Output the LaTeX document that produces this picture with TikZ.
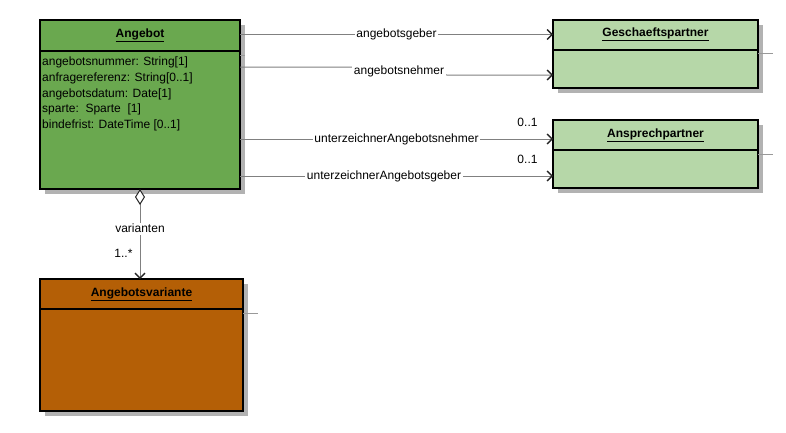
\documentclass[tikz,border=0pt]{standalone}
\usepackage{fontspec}
\setmainfont{Liberation Sans}
\usetikzlibrary{positioning, arrows.meta, backgrounds}
\definecolor{gruen}{HTML}{6AA84F}
\definecolor{hellgruen}{HTML}{B6D7A8}
\definecolor{braun}{HTML}{B45F06}

\begin{document}
\begin{tikzpicture}[x=1pt, y=-1pt, every node/.style={font=\fontsize{12}{14}\selectfont},
    classhead/.style={rectangle, draw, line width=2pt, inner sep=0pt, outer sep=0pt, font=\bfseries\fontsize{12}{14}\selectfont},
    classbody/.style={rectangle, draw, line width=2pt, inner sep=0pt, outer sep=0pt},
    shadowfill/.style={fill=black!30},
    stub/.style={draw=black!40, line width=1pt},
    assoc/.style={draw=black!50, line width=1pt, -{Straight Barb[length=5pt, width=10pt, line width=1.3pt, color=black!85]}},
    agg/.style={draw=black!50, line width=1pt, {Diamond[length=16pt, width=10pt, line width=1pt, fill=white, color=black!85]}-{Straight Barb[length=5pt, width=10pt, line width=1.3pt, color=black!85]}},
    lbl/.style={fill=white, inner sep=1.5pt},
    mult/.style={inner sep=1pt}]
    \useasboundingbox (0,0) rectangle (786,432);
    % Klassen
    \node[classhead, fill=gruen, minimum width=200pt, minimum height=31pt] (ah) at (140,35.5) {\underline{Angebot}};
    \node[classbody, fill=gruen, minimum width=200pt, minimum height=138pt, below=0pt of ah] (ab) {};
    \node[anchor=north west, align=left, inner sep=0pt, font=\fontsize{12}{15.8}\selectfont] (aattr) at ([xshift=2pt, yshift=-5.5pt]ab.north west) {angebotsnummer: String[1]\\anfragereferenz: String[0..1]\\angebotsdatum: Date[1]\\sparte:\ \ Sparte\ \ [1]\\bindefrist: DateTime [0..1]};
    \node[classhead, fill=hellgruen, minimum width=205pt, minimum height=30pt] (gh) at (655.5,34.5) {\underline{Geschaeftspartner}};
    \node[classbody, fill=hellgruen, minimum width=205pt, minimum height=38pt, below=0pt of gh] (gb) {};
    \node[classhead, fill=hellgruen, minimum width=205pt, minimum height=30pt] (aph) at (655.5,135) {\underline{Ansprechpartner}};
    \node[classbody, fill=hellgruen, minimum width=205pt, minimum height=38pt, below=0pt of aph] (apb) {};
    \node[classhead, fill=braun, minimum width=203pt, minimum height=30pt] (vh) at (141.5,294) {\underline{Angebotsvariante}};
    \node[classbody, fill=braun, minimum width=203pt, minimum height=102pt, below=0pt of vh] (vb) {};
    % Schatten
    \begin{pgfonlayer}{background}
        \fill[shadowfill] ([shift={(5pt,-5pt)}]ah.north west) rectangle ([shift={(5pt,-5pt)}]ab.south east);
        \fill[shadowfill] ([shift={(5pt,-5pt)}]gh.north west) rectangle ([shift={(5pt,-5pt)}]gb.south east);
        \fill[shadowfill] ([shift={(5pt,-5pt)}]aph.north west) rectangle ([shift={(5pt,-5pt)}]apb.south east);
        \fill[shadowfill] ([shift={(5pt,-5pt)}]vh.north west) rectangle ([shift={(5pt,-5pt)}]vb.south east);
    \end{pgfonlayer}
    \draw[stub] ([yshift=-4pt]ah.south east) -- ++(5,0);
    \draw[stub] ([yshift=-4pt]gh.south east) -- ++(15,0);
    \draw[stub] ([yshift=-4pt]aph.south east) -- ++(15,0);
    \draw[stub] ([yshift=-4pt]vh.south east) -- ++(15,0);
    % Assoziationen
    \draw[assoc] (ah.east |- gh.west) -- node[lbl]{angebotsgeber} (gh.west);
    \draw[assoc] ([yshift=-16pt]ab.north east) -- ++(111,0) -- node[lbl]{angebotsnehmer} ++(96,8) -- ([yshift=-6.5pt]gb.west);
    \draw[assoc] ([yshift=-88pt]ab.north east) -- node[lbl]{unterzeichnerAngebotsnehmer}
        node[mult, pos=1, anchor=south east, xshift=-14pt, yshift=11pt]{0..1} ([yshift=-4pt]aph.west);
    \draw[assoc] ([yshift=-125pt]ab.north east) -- node[lbl, pos=0.46]{unterzeichnerAngebotsgeber}
        node[mult, pos=1, anchor=south east, xshift=-14pt, yshift=11pt]{0..1} ([yshift=-7pt]apb.west);
    \draw[agg] (ab.south) -- node[lbl, pos=0.44]{varianten} node[mult, pos=0.72, left, xshift=-6pt]{1..*} (ab.south |- vh.north);
\end{tikzpicture}
\end{document}
